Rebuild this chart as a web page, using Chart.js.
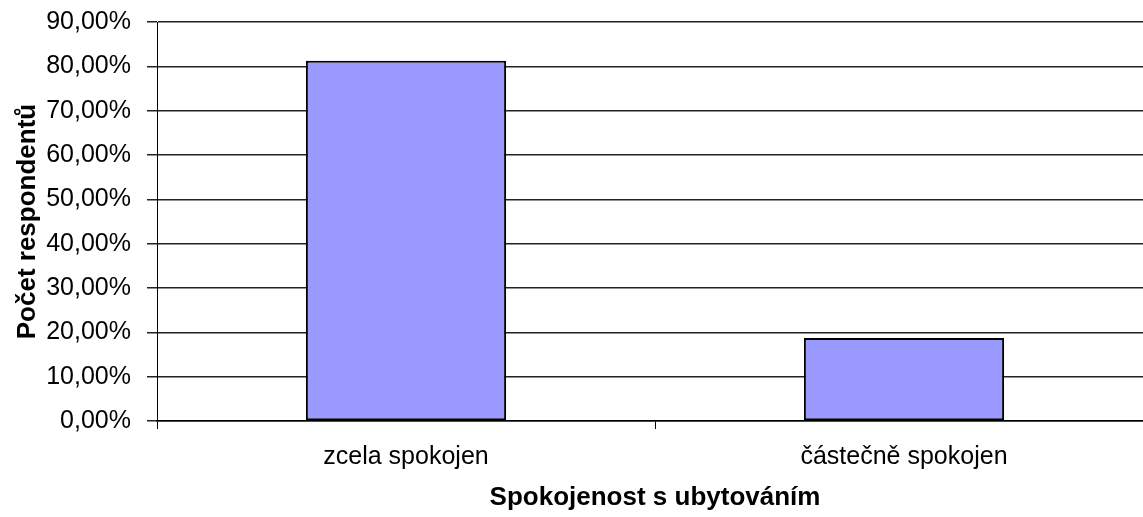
<!DOCTYPE html>
<html>
<head>
<meta charset="utf-8">
<script src="https://cdn.jsdelivr.net/npm/chart.js@4"></script>
<style>
    html, body { margin: 0; padding: 0; background: #fff; overflow: hidden; }
    #wrap { width: 1143px; height: 517px; overflow: hidden; }
</style>
</head>
<body>
<div id="wrap">
    <canvas id="satisfactionChart" width="1160" height="517"></canvas>
</div>
<script>
const categories = ['zcela spokojen', 'částečně spokojen'];
const shares = [81.25, 18.75];
const yTicks = [0, 10, 20, 30, 40, 50, 60, 70, 80, 90];

const fontFamily = '"Liberation Sans", Arial, sans-serif';

function formatPercent(value) {
    return value.toFixed(2).replace('.', ',') + '%';
}

function initChart() {
    const ctx = document.getElementById('satisfactionChart');
    if (!ctx) return;

    new Chart(ctx, {
        type: 'bar',
        data: {
            labels: categories,
            datasets: [
                {
                    label: 'Počet respondentů',
                    data: shares,
                    backgroundColor: '#9999FF',
                    borderColor: '#000000',
                    borderWidth: 2,
                    borderSkipped: false,
                    barPercentage: 0.402,
                    categoryPercentage: 1
                }
            ]
        },
        options: {
            responsive: false,
            animation: false,
            layout: {
                padding: { left: 0, right: 7, top: 22, bottom: 0 }
            },
            scales: {
                x: {
                    grid: {
                        display: true,
                        drawOnChartArea: false,
                        drawTicks: true,
                        tickLength: 8,
                        color: '#000000',
                        lineWidth: 1
                    },
                    border: { display: true, color: '#000000', width: 1.5 },
                    ticks: {
                        color: '#000000',
                        padding: 13,
                        font: { family: fontFamily, size: 25 }
                    },
                    title: {
                        display: true,
                        text: 'Spokojenost s ubytováním',
                        color: '#000000',
                        padding: { top: 0, bottom: 4 },
                        font: { family: fontFamily, size: 26, weight: 'bold' }
                    },
                    afterFit: function(scale) {
                        scale.height = 96;
                        scale.paddingLeft = 0;
                        scale.paddingRight = 0;
                    }
                },
                y: {
                    min: 0,
                    max: 90,
                    afterBuildTicks: function(scale) {
                        scale.ticks = yTicks.map(v => ({ value: v }));
                    },
                    grid: {
                        color: '#222222',
                        lineWidth: 1.5,
                        drawTicks: true,
                        tickLength: 10
                    },
                    border: { display: true, color: '#000000', width: 1 },
                    ticks: {
                        color: '#000000',
                        padding: 16,
                        font: { family: fontFamily, size: 25 },
                        callback: function(value) {
                            return formatPercent(value);
                        }
                    },
                    title: {
                        display: true,
                        text: 'Počet respondentů',
                        color: '#000000',
                        padding: { top: 12, bottom: 0 },
                        font: { family: fontFamily, size: 26, weight: 'bold' }
                    },
                    afterFit: function(scale) {
                        scale.width = 157;
                        scale.paddingTop = 0;
                        scale.paddingBottom = 0;
                    }
                }
            },
            plugins: {
                legend: { display: false },
                tooltip: { enabled: false }
            }
        }
    });
}

document.addEventListener('DOMContentLoaded', initChart);
</script>
</body>
</html>
